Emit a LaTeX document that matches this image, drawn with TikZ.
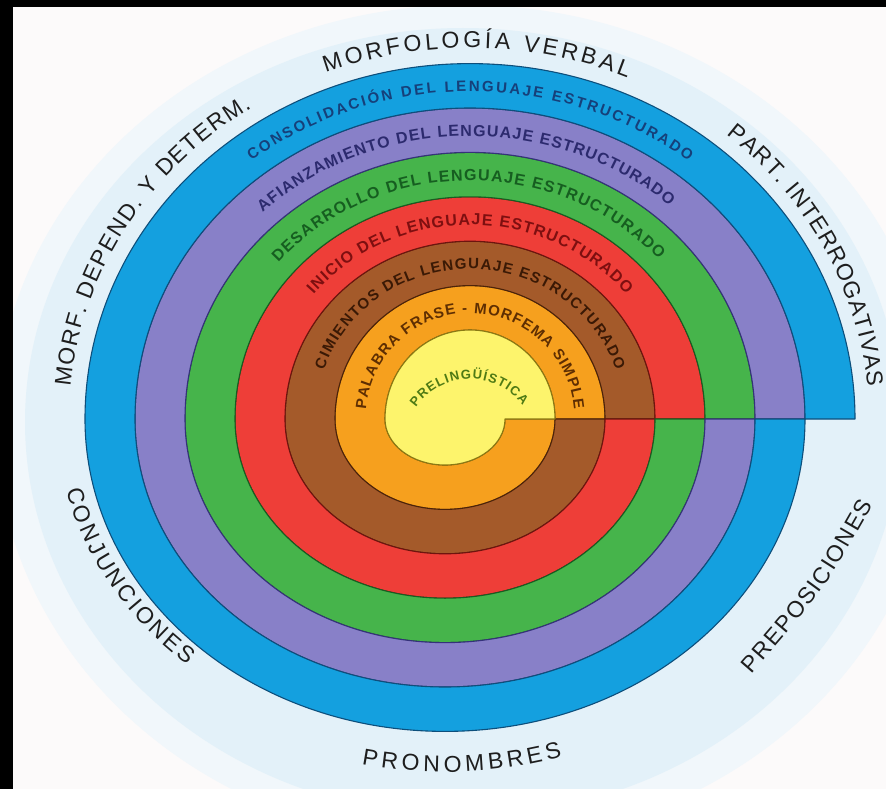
\documentclass[tikz,border=0pt]{standalone}
\usepackage{fontspec}
\setmainfont{Liberation Sans}
\usetikzlibrary{decorations.text}
\definecolor{bgw}{HTML}{FCFAFA}
\definecolor{haloA}{HTML}{F1F7FB}
\definecolor{haloB}{HTML}{E3F1F9}
\definecolor{blu}{HTML}{14A0DF}
\definecolor{purp}{HTML}{8880C8}
\definecolor{grn}{HTML}{46B44B}
\definecolor{redd}{HTML}{EE3E38}
\definecolor{brwn}{HTML}{A45A2A}
\definecolor{orng}{HTML}{F6A01E}
\definecolor{yel}{HTML}{FDF46C}
\definecolor{blud}{HTML}{0D4F7C}
\definecolor{purpd}{HTML}{35327A}
\definecolor{grnd}{HTML}{185E22}
\definecolor{reddd}{HTML}{6E140E}
\definecolor{brwnd}{HTML}{4C230A}
\definecolor{orngd}{HTML}{8A500A}
\definecolor{yeld}{HTML}{8A7A14}
\definecolor{tblu}{HTML}{16407A}
\definecolor{tpurp}{HTML}{2C2A6E}
\definecolor{tgrn}{HTML}{165E20}
\definecolor{tred}{HTML}{7E0F10}
\definecolor{tbrwn}{HTML}{3A1905}
\definecolor{torng}{HTML}{5E2E02}
\definecolor{tyel}{HTML}{4E7A14}
\definecolor{tout}{HTML}{1E1E1E}
\newcommand\bfsz[1]{\fontsize{#1}{#1}\selectfont\bfseries}
\newcommand\outfont{\fontsize{23}{23}\selectfont}
\begin{document}
\begin{tikzpicture}[x=1pt,y=1pt,
  bandtext/.style n args={3}{decorate, decoration={text along path, text align={fit to path}, text color=#1, text={|#2|#3}}},
  bandfill/.style={line width=1.1pt, line join=round}]
\useasboundingbox (0,0) rectangle (886,-789);
% background
\fill[bgw] (0,0) rectangle (886,-789);
\fill[haloA] (466,-425) ellipse[x radius=470, y radius=420];
\fill[haloB] (463,-422) ellipse[x radius=438, y radius=394];
\fill[black] (0,0) rectangle (886,-7);
\fill[black] (0,0) rectangle (13,-789);
% spiral bands
\foreach \j/\col/\dk in {0/orng/orngd, 1/brwn/brwnd, 2/redd/reddd, 3/grn/grnd, 4/purp/purpd, 5/blu/blud} {
  \pgfmathsetmacro\rxli{60+50*\j}
  \pgfmathsetmacro\ryli{46+44.4*\j}
  \pgfmathsetmacro\rxui{85+50*\j}
  \pgfmathsetmacro\ryui{89+44.4*\j}
  \pgfmathsetmacro\rxlo{110+50*\j}
  \pgfmathsetmacro\rylo{90.4+44.4*\j}
  \pgfmathsetmacro\rxuo{135+50*\j}
  \pgfmathsetmacro\ryuo{133.4+44.4*\j}
  \pgfmathsetmacro\xs{445+\rxli}
  \pgfmathsetmacro\xb{470+\rxuo}
  \filldraw[bandfill, fill=\col, draw=\dk]
    (\xs,-419) arc[start angle=0, end angle=-180, x radius=\rxli, y radius=\ryli]
    arc[start angle=180, end angle=0, x radius=\rxui, y radius=\ryui]
    -- (\xb,-419)
    arc[start angle=0, end angle=180, x radius=\rxuo, y radius=\ryuo]
    arc[start angle=180, end angle=360, x radius=\rxlo, y radius=\rylo]
    -- cycle;
}
\filldraw[bandfill, fill=yel, draw=yeld]
  (505,-419) arc[start angle=0, end angle=-180, x radius=60, y radius=46]
  arc[start angle=180, end angle=0, x radius=85, y radius=89] -- cycle;
% band labels
\path[shift={(470,-419)}, bandtext={tblu}{\bfsz{15}}{CONSOLIDACIÓN DEL LENGUAJE ESTRUCTURADO}]
  (128:354.5 and 327.5) arc[start angle=128, end angle=52, x radius=354.5, y radius=327.5];
\path[shift={(470,-419)}, bandtext={tpurp}{\bfsz{16}}{AFIANZAMIENTO DEL LENGUAJE ESTRUCTURADO}]
  (133:304 and 282.8) arc[start angle=133, end angle=49, x radius=304, y radius=282.8];
\path[shift={(470,-419)}, bandtext={tgrn}{\bfsz{16}}{DESARROLLO DEL LENGUAJE ESTRUCTURADO}]
  (139:254 and 238.4) arc[start angle=139, end angle=42, x radius=254, y radius=238.4];
\path[shift={(470,-419)}, bandtext={tred}{\bfsz{16}}{INICIO DEL LENGUAJE ESTRUCTURADO}]
  (140:204 and 194) arc[start angle=140, end angle=40, x radius=204, y radius=194];
\path[shift={(470,-419)}, bandtext={tbrwn}{\bfsz{15}}{CIMIENTOS DEL LENGUAJE ESTRUCTURADO}]
  (161:154.5 and 150) arc[start angle=161, end angle=19, x radius=154.5, y radius=150];
\path[shift={(470,-419)}, bandtext={torng}{\bfsz{15}}{PALABRA FRASE - MORFEMA SIMPLE}]
  (175:104.5 and 105.7) arc[start angle=175, end angle=5, x radius=104.5, y radius=105.7];
\path[shift={(470,-445)}, bandtext={tyel}{\bfsz{13}}{PRELINGÜÍSTICA}]
  (145:66) arc[start angle=145, end angle=37, radius=66];
% outer labels
\path[shift={(470,-419)}, bandtext={tout}{\outfont}{MORFOLOGÍA VERBAL}]
  (111:403 and 371) arc[start angle=111, end angle=67, x radius=403, y radius=371];
\path[shift={(470,-419)}, bandtext={tout}{\outfont}{PART. INTERROGATIVAS}]
  (50:399 and 371) arc[start angle=50, end angle=5, x radius=399, y radius=371];
\path[shift={(470,-419)}, bandtext={tout}{\outfont}{MORF. DEPEND. Y DETERM.}]
  (175:401 and 371) arc[start angle=175, end angle=123, x radius=401, y radius=371];
\path[shift={(445,-419)}, bandtext={tout}{\outfont}{PRONOMBRES}]
  (258:401 and 353) arc[start angle=258, end angle=287, x radius=401, y radius=353];
\path[shift={(445,-419)}, bandtext={tout}{\outfont}{CONJUNCIONES}]
  (192.5:388 and 328) arc[start angle=192.5, end angle=228.5, x radius=388, y radius=328];
\path[bandtext={tout}{\outfont}{PREPOSICIONES}]
  (751,-674) .. controls (825,-589) .. (873,-505);
\end{tikzpicture}
\end{document}
